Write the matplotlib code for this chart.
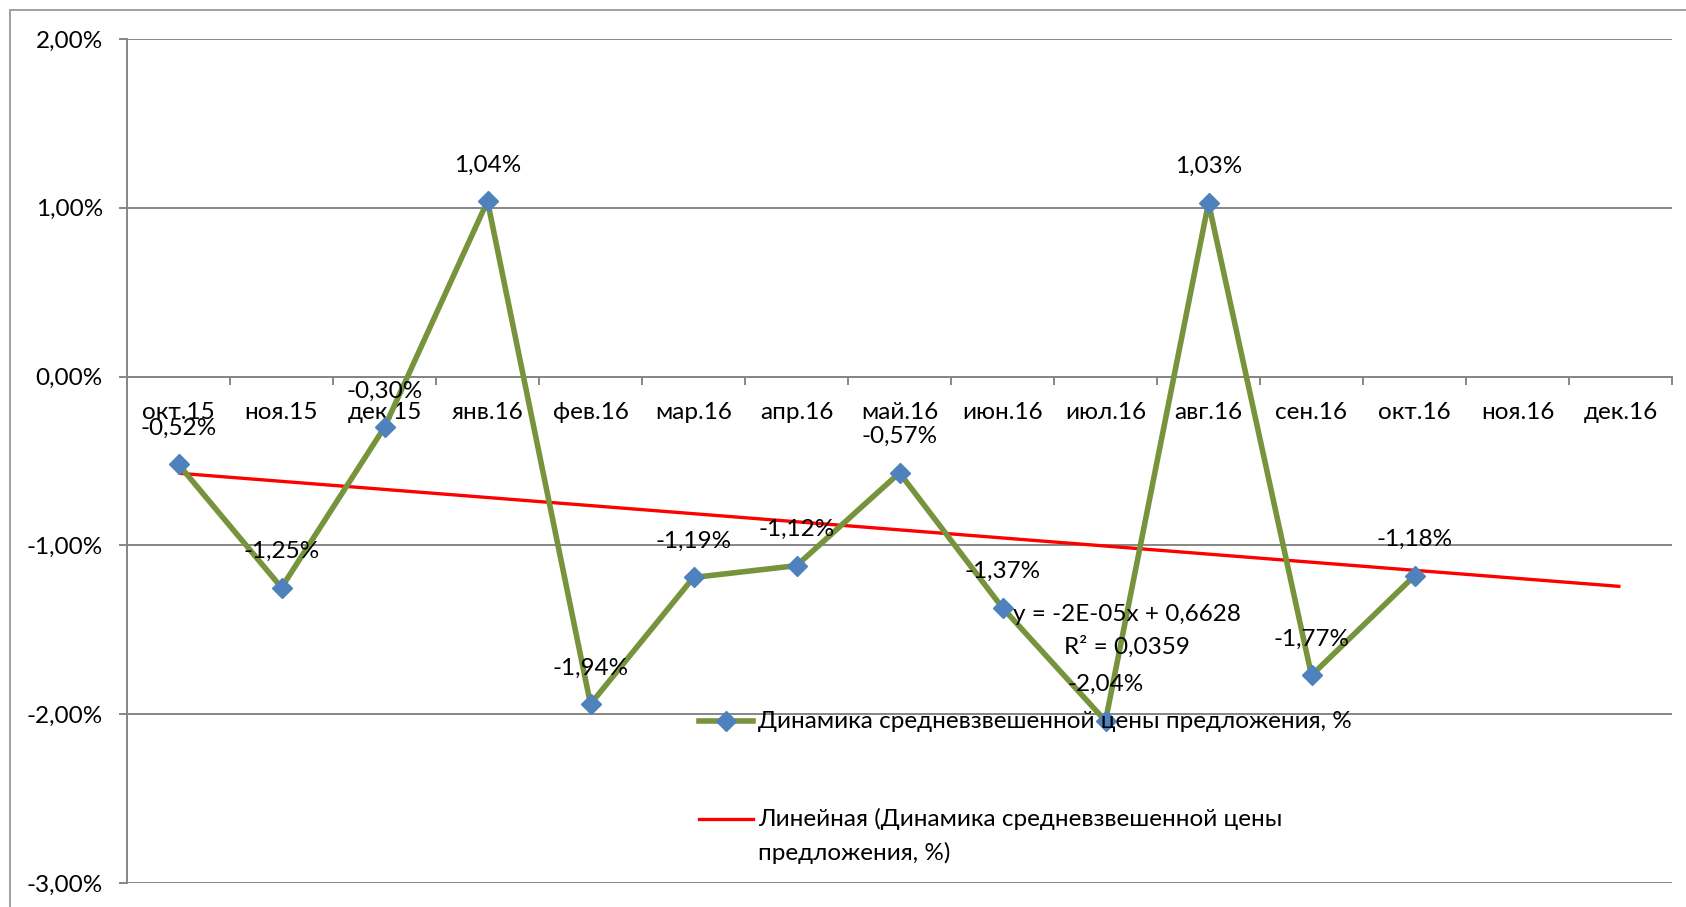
import numpy as np
import matplotlib
matplotlib.use("Agg")
import matplotlib.pyplot as plt
from matplotlib.lines import Line2D
from matplotlib.patches import Rectangle
from matplotlib.ticker import FixedLocator, FuncFormatter, NullFormatter

plt.rcParams['font.family'] = ['Lato', 'Open Sans', 'DejaVu Sans']

# Months on the category axis
months = ["окт.15", "ноя.15", "дек.15", "янв.16", "фев.16", "мар.16", "апр.16",
          "май.16", "июн.16", "июл.16", "авг.16", "сен.16", "окт.16", "ноя.16", "дек.16"]
# Monthly change of the weighted average offer price, %
change = [-0.52, -1.25, -0.30, 1.04, -1.94, -1.19, -1.12, -0.57, -1.37, -2.04, 1.03, -1.77, -1.18]
series_name = "Динамика средневзвешенной цены предложения, %"
trend_name = "Линейная (Динамика средневзвешенной цены\nпредложения, %)"
trend_eq = "y = -2E-05x + 0,6628"
trend_r2 = "R² = 0,0359"
y_ticks = [-3, -2, -1, 0, 1, 2]

W, H = 1686, 907
FS = 17.5
GRID = "#868686"
GREEN = "#77933C"
BLUE = "#4F81BD"

fig = plt.figure(figsize=(W / 100, H / 100), dpi=100)
ax = fig.add_axes([127 / W, 1 - 883 / H, (1672 - 127) / W, (883 - 39) / H])

x_all = np.arange(len(months))
x_data = x_all[:len(change)]
vals = np.array(change)

# linear trend, extended over the whole category range
coef = np.polyfit(x_data, vals, 1)
trend = np.polyval(coef, x_all)

ax.plot(x_all, trend, color="#FF0000", lw=2.4, zorder=3, solid_capstyle="butt")
ax.plot(x_data, vals, color=GREEN, lw=4.0, zorder=4, marker="D", ms=10,
        markerfacecolor=BLUE, markeredgecolor=BLUE)

for xi, v in zip(x_data, vals):
    ax.annotate(f"{v:.2f}%".replace(".", ","), (xi, v), xytext=(0, 26),
                textcoords="offset points", ha="center", va="center",
                fontsize=FS, zorder=6)

ax.text(9.21, -1.41, trend_eq, ha="center", va="center", fontsize=FS, zorder=6)
ax.text(9.21, -1.60, trend_r2, ha="center", va="center", fontsize=FS, zorder=6)

ax.set_xlim(-0.5, len(months) - 0.5)
ax.set_ylim(-3, 2)

# axes styling
for s in ("top", "right"):
    ax.spines[s].set_visible(False)
ax.spines["bottom"].set_position(("data", 0))
for s in ("bottom", "left"):
    ax.spines[s].set_color(GRID)
    ax.spines[s].set_linewidth(1.4)

ax.yaxis.set_major_locator(FixedLocator(y_ticks))
ax.yaxis.set_major_formatter(FuncFormatter(lambda v, p: f"{v:.2f}%".replace(".", ",")))
ax.tick_params(axis="y", direction="out", length=5.8, width=1.4, color=GRID,
               pad=11.5, labelsize=FS)
ax.yaxis.grid(True, color=GRID, lw=1.4)
ax.set_axisbelow(True)

ax.xaxis.set_major_locator(FixedLocator(np.arange(-0.5, len(months), 1.0)))
ax.xaxis.set_major_formatter(NullFormatter())
ax.xaxis.set_minor_locator(FixedLocator(x_all))
ax.set_xticklabels(months, minor=True)
ax.tick_params(axis="x", which="major", direction="out", length=5.8, width=1.4, color=GRID)
ax.tick_params(axis="x", which="minor", length=0, pad=18, labelsize=FS)

# legend inside the plot area
def fx(px):
    return px / W

def fy(py):
    return 1 - py / H

fig.add_artist(Line2D([fx(699), fx(753)], [fy(721), fy(721)], color=GREEN, lw=4.0))
fig.add_artist(Line2D([fx(726)], [fy(721)], marker="D", ms=10, color=BLUE, lw=0))
fig.text(fx(758), fy(721), series_name, ha="left", va="center", fontsize=FS)
fig.add_artist(Line2D([fx(699), fx(753)], [fy(819), fy(819)], color="#FF0000", lw=2.4))
for k, line in enumerate(trend_name.split("\n")):
    fig.text(fx(758), fy(819 + 34 * k), line, ha="left", va="center", fontsize=FS)

# chart frame
fig.add_artist(Rectangle((fx(10), -0.5), 2, fy(10) + 0.5, fill=False,
                         edgecolor="#A0A0A0", lw=1.4, transform=fig.transFigure))

fig.savefig("out.png", dpi=100, facecolor="white")
